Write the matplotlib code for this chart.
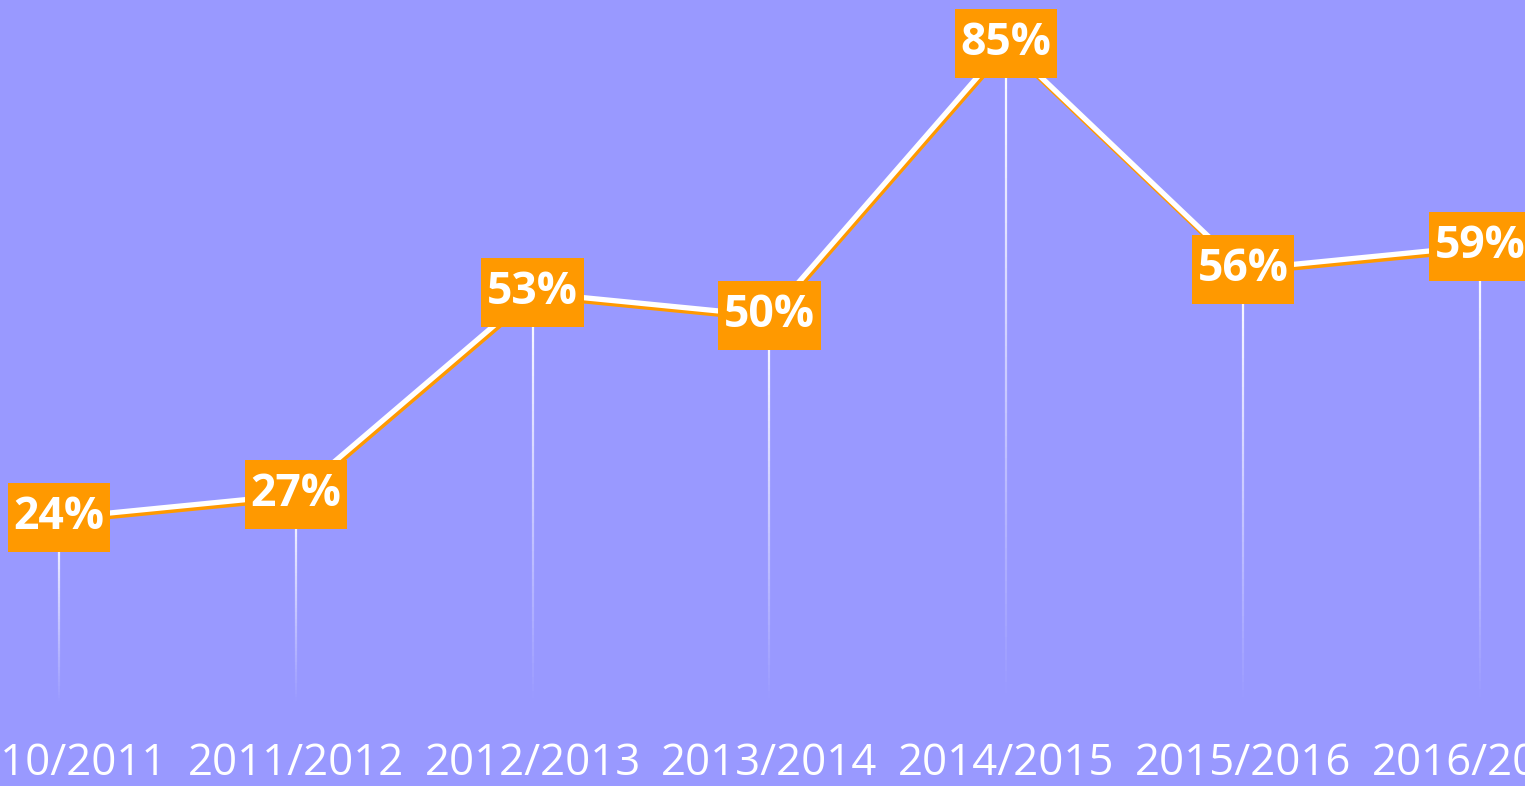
import numpy as np
import matplotlib
matplotlib.use('Agg')
import matplotlib.pyplot as plt
import matplotlib.patheffects as pe
from matplotlib.collections import LineCollection
from matplotlib.path import Path

# Data
seasons = ['2010/2011', '2011/2012', '2012/2013', '2013/2014',
           '2014/2015', '2015/2016', '2016/2017']
values = [24, 27, 53, 50, 85, 56, 59]

bg = '#9999FF'
orange = '#FF9900'

plt.rcParams['font.family'] = ['Open Sans', 'DejaVu Sans']


def label_box(x0, y0, width, height, mutation_size):
    # rectangle with more padding top/bottom than left/right
    px = 0.13 * mutation_size
    py = 0.27 * mutation_size
    x0, y0 = x0 - px, y0 - py
    x1, y1 = x0 + width + 2 * px, y0 + height + 2 * py
    return Path([(x0, y0), (x1, y0), (x1, y1), (x0, y1), (x0, y0)],
                closed=True)


fig = plt.figure(figsize=(15.25, 7.86), dpi=100, facecolor=bg)
ax = fig.add_axes([0, 0.1037, 1, 0.8963])
ax.set_facecolor(bg)

x = np.arange(len(values))

# drop lines fading towards the bottom
for xi, v in zip(x, values):
    ys = np.linspace(v, 0, 60)
    segs = [[(xi, ys[k]), (xi, ys[k + 1])] for k in range(len(ys) - 1)]
    alphas = np.linspace(1, 0, len(segs))
    cols = [(1, 1, 1, a) for a in alphas]
    ax.add_collection(LineCollection(segs, colors=cols, linewidths=1.6, zorder=1))

# main line with orange shadow
ax.plot(x, values, color='white', lw=3.8, zorder=2, solid_capstyle='butt',
        path_effects=[pe.SimpleLineShadow(offset=(1.0, -2.4), shadow_color=orange, alpha=1, rho=1),
                      pe.Normal()])

for xi, v in zip(x, values):
    ax.text(xi, v, f'{v}%', ha='center', va='center', color='white',
            fontsize=32, fontweight='bold', zorder=3,
            bbox=dict(boxstyle=label_box, fc=orange, ec='none'))

ax.set_xlim(-0.249, 6.191)
ax.set_ylim(0, 90.66)
ax.set_xticks(x)
ax.set_xticklabels(seasons, color='white', fontsize=31.5)
ax.tick_params(axis='x', length=0, pad=27)
ax.set_yticks([])
for s in ax.spines.values():
    s.set_visible(False)

fig.savefig('out.png', dpi=100, facecolor=bg)
